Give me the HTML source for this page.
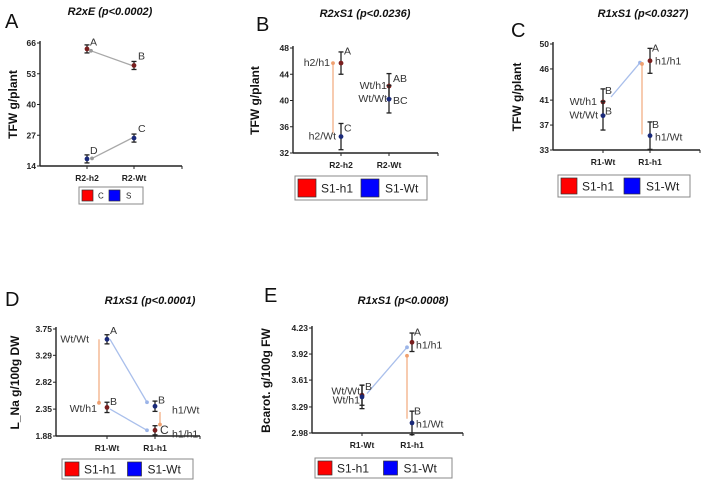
<!DOCTYPE html>
<html><head><meta charset="utf-8"><style>
html,body{margin:0;padding:0;background:#fff;}
svg{display:block;font-family:"Liberation Sans",sans-serif;}
</style></head><body>
<svg id="fig" width="705" height="494" viewBox="0 0 705 494" xmlns="http://www.w3.org/2000/svg"></svg>
<script>
// ---- Panel data ----
const catsA = ["R2-h2","R2-Wt"];
const ticksA = [14,27,40,53,66];
const seriesA1 = [63.5,56.5];   // C
const errA1 = [1.7,1.7];
const seriesA2 = [17,25.8];     // S
const errA2 = [1.7,1.7];
const lettersA1 = ["A","B"];
const lettersA2 = ["D","C"];

const catsB = ["R2-h2","R2-Wt"];
const ticksB = [32,36,40,44,48];
const seriesB1 = [45.7,42.2];   // S1-h1
const errB1 = [1.7,1.9];
const seriesB2 = [34.5,40.2];   // S1-Wt
const errB2 = [2.0,2.1];

const catsC = ["R1-Wt","R1-h1"];
const ticksC = [33,37,41,46,50];
const seriesC1 = [40.7,47.3];
const errC1 = [2.1,2.0];
const seriesC2 = [38.5,35.3];
const errC2 = [2.3,2.2];

const catsD = ["R1-Wt","R1-h1"];
const ticksD = [1.88,2.35,2.82,3.29,3.75];
const seriesD1 = [2.38,1.98];
const errD1 = [0.09,0.08];
const seriesD2 = [3.57,2.40];
const errD2 = [0.08,0.09];

const catsE = ["R1-Wt","R1-h1"];
const ticksE = [2.98,3.29,3.61,3.92,4.23];
const seriesE1 = [3.43,4.06];
const errE1 = [0.12,0.11];
const seriesE2 = [3.41,3.10];
const errE2 = [0.14,0.14];

const NS="http://www.w3.org/2000/svg";
const svg=document.getElementById('fig');
function mk(tag,attrs,parent,text){const e=document.createElementNS(NS,tag);for(const k in attrs)e.setAttribute(k,attrs[k]);if(text!==undefined)e.textContent=text;(parent||svg).appendChild(e);return e;}

function panel(p){
  const g=mk('g',{});
  
  
  const ymin=p.ticks[0],ymax=p.ticks[p.ticks.length-1];
  const y=v=>p.y0-(p.y0-p.y1)*(v-ymin)/(ymax-ymin);
  const x=i=>p.cx[i];
  const L=mk('text',{x:p.lx,y:p.ly,'font-size':20,fill:'#111'},g,p.id);
  
  const T=mk('text',{x:p.tx,y:p.ty,'font-size':11,'font-weight':'bold','font-style':'italic','text-anchor':'middle',fill:'#111'},g,p.title);
  
  const yt=mk('text',{x:0,y:0,'font-size':12,'font-weight':'bold','text-anchor':'middle',fill:'#111',transform:`translate(${p.ytx},${(p.y0+p.y1)/2}) rotate(-90)`},g,p.ytitle);
  
  mk('line',{x1:p.ax,y1:p.y1-2,x2:p.ax,y2:p.y0,stroke:'#222','stroke-width':1.4},g);
  mk('line',{x1:p.ax,y1:p.y0,x2:p.axEnd,y2:p.y0,stroke:'#222','stroke-width':1.4},g);
  mk('line',{x1:p.axEnd,y1:p.y0,x2:p.axEnd,y2:p.y0+3,stroke:'#222','stroke-width':1},g);
  p.ticks.forEach(t=>{
    mk('line',{x1:p.ax-3,y1:y(t),x2:p.ax,y2:y(t),stroke:'#222','stroke-width':1},g);
    const tl=mk('text',{x:p.ax-4,y:y(t)+3,'font-size':8.5,'font-weight':'bold','text-anchor':'end',fill:'#222'},g,String(t));
    
  });
  p.cats.forEach((c,i)=>{
    mk('line',{x1:x(i),y1:p.y0,x2:x(i),y2:p.y0+3,stroke:'#222','stroke-width':1},g);
    const cl=mk('text',{x:x(i),y:p.y0+15,'font-size':8.5,'font-weight':'bold','text-anchor':'middle',fill:'#222'},g,c);
    
  });
  (p.links||[]).forEach(l=>{
    const col=l.c;
    mk('line',{x1:x(l.i1)+l.dx1,y1:y(l.v1),x2:x(l.i2)+l.dx2,y2:y(l.v2),stroke:col,'stroke-width':1.3,opacity:0.85},g);
    mk('circle',{cx:x(l.i2)+l.dx2,cy:y(l.v2),r:1.9,fill:col},g);
  });
  [[p.s1[0],p.s1[1],'#7a1f1f'],[p.s2[0],p.s2[1],'#1a2a7a']].forEach((s,si)=>{
    s[0].forEach((v,i)=>{
      const e=s[1][i];
      mk('line',{x1:x(i),y1:y(v-e),x2:x(i),y2:y(v+e),stroke:'#222','stroke-width':1.3},g);
      mk('line',{x1:x(i)-2.5,y1:y(v-e),x2:x(i)+2.5,y2:y(v-e),stroke:'#222','stroke-width':1.3},g);
      mk('line',{x1:x(i)-2.5,y1:y(v+e),x2:x(i)+2.5,y2:y(v+e),stroke:'#222','stroke-width':1.3},g);
      const pt=mk('circle',{cx:x(i),cy:y(v),r:2.4,fill:s[2]},g);
      
      
    });
  });
  (p.notes||[]).forEach(n=>{
    const yy=y(n.v);
    const a=mk('text',{x:x(n.i)+n.dx,y:yy+(n.dy||0),'font-size':n.fs||10.5,'text-anchor':n.anchor||'start',fill:'#333'},g,n.t);
    
  });
  const lg=mk('g',{},g);
  
  const lw=p.lg[2]-p.lg[0],lh=p.lg[3]-p.lg[1];
  mk('rect',{x:p.lg[0],y:p.lg[1],width:lw,height:lh,fill:'#fff',stroke:'#888','stroke-width':1},lg);
  const fs=p.lfs||12;
  const sw=lh-6;
  mk('rect',{x:p.lg[0]+3,y:p.lg[1]+3,width:sw,height:sw,fill:'#f00',stroke:'#333','stroke-width':0.7},lg);
  mk('text',{x:p.lg[0]+sw+8,y:p.lg[1]+lh/2+fs*0.36,'font-size':fs,fill:'#222'},lg,p.ln[0]);
  const x2=p.lg[0]+lw*0.5+(p.lshift||0);
  mk('rect',{x:x2,y:p.lg[1]+3,width:sw,height:sw,fill:'#00f',stroke:'#333','stroke-width':0.7},lg);
  mk('text',{x:x2+sw+6,y:p.lg[1]+lh/2+fs*0.36,'font-size':fs,fill:'#222'},lg,p.ln[1]);
}

const ORG='#f0a070', BLU='#9bb4e8', GRY='#999';
panel({id:'A',title:'R2xE (p<0.0002)',tx:110,ty:15,lx:5,ly:28,ytitle:'TFW g/plant',ytx:17,
  ax:40,axEnd:182,y0:166,y1:43,cx:[87,134],cats:catsA,ticks:ticksA,
  s1:[seriesA1,errA1],s2:[seriesA2,errA2],
  links:[{i1:1,v1:seriesA1[1],dx1:-2,i2:0,v2:seriesA1[0]-0.8,dx2:4,c:GRY},{i1:1,v1:seriesA2[1],dx1:-2,i2:0,v2:seriesA2[0]+0.2,dx2:5,c:GRY}],
  notes:[{i:0,dx:3,v:seriesA1[0]+1.5,t:lettersA1[0]},{i:1,dx:4,v:seriesA1[1]+2.5,t:lettersA1[1]},{i:0,dx:3,v:seriesA2[0]+2,t:lettersA2[0]},{i:1,dx:4,v:seriesA2[1]+2.5,t:lettersA2[1]}],
  lg:[79,187,143,204],ln:['C','S'],lfs:8,lshift:-2});
panel({id:'B',title:'R2xS1 (p<0.0236)',tx:365,ty:17,lx:256,ly:31,ytitle:'TFW g/plant',ytx:259,
  ax:293,axEnd:438,y0:153,y1:48,cx:[341,389],cats:catsB,ticks:ticksB,
  s1:[seriesB1,errB1],s2:[seriesB2,errB2],
  links:[{i1:0,v1:seriesB2[0]+0.5,dx1:-8,i2:0,v2:seriesB1[0],dx2:-8,c:ORG}],
  notes:[{i:0,dx:3,v:47,t:'A'},{i:0,dx:3,v:35.3,t:'C'},{i:0,dx:-11,v:45.7,dy:3,t:'h2/h1',anchor:'end'},{i:0,dx:-5,v:34.5,dy:3,t:'h2/Wt',anchor:'end'},
    {i:1,dx:4,v:42.8,t:'AB'},{i:1,dx:4,v:39.5,t:'BC'},{i:1,dx:-2,v:42.2,dy:3,t:'Wt/h1',anchor:'end'},{i:1,dx:-2,v:40.2,dy:3,t:'Wt/Wt',anchor:'end'}],
  lg:[295,176,427,200],ln:['S1-h1','S1-Wt'],lfs:12});
panel({id:'C',title:'R1xS1 (p<0.0327)',tx:643,ty:17,lx:511,ly:37,ytitle:'TFW g/plant',ytx:521,
  ax:553,axEnd:700,y0:150,y1:44,cx:[603,650],cats:catsC,ticks:ticksC,
  s1:[seriesC1,errC1],s2:[seriesC2,errC2],
  links:[{i1:0,v1:41.5,dx1:8,i2:1,v2:47,dx2:-10,c:BLU},{i1:1,v1:35.5,dx1:-8,i2:1,v2:46.8,dx2:-8,c:ORG}],
  notes:[{i:0,dx:2,v:42,t:'B'},{i:0,dx:2,v:38.7,t:'B'},{i:0,dx:-6,v:40.7,dy:3,t:'Wt/h1',anchor:'end'},{i:0,dx:-5,v:38.5,dy:3,t:'Wt/Wt',anchor:'end'},
    {i:1,dx:2,v:48.8,t:'A'},{i:1,dx:5,v:47.2,dy:3,t:'h1/h1'},{i:1,dx:2,v:36.5,t:'B'},{i:1,dx:5,v:35,dy:3,t:'h1/Wt'}],
  lg:[558,175,690,197],ln:['S1-h1','S1-Wt'],lfs:12});
panel({id:'D',title:'R1xS1 (p<0.0001)',tx:150,ty:304,lx:5,ly:306,ytitle:'L_Na  g/100g DW',ytx:19,
  ax:56,axEnd:200,y0:436,y1:329,cx:[107,155],cats:catsD,ticks:ticksD,
  s1:[seriesD1,errD1],s2:[seriesD2,errD2],
  links:[{i1:0,v1:seriesD2[0],dx1:-8,i2:0,v2:2.46,dx2:-8,c:ORG},{i1:0,v1:seriesD2[0],dx1:3,i2:1,v2:2.47,dx2:-8,c:BLU},{i1:0,v1:2.35,dx1:3,i2:1,v2:1.98,dx2:-8,c:BLU},{i1:1,v1:2.3,dx1:5,i2:1,v2:2.08,dx2:5,c:ORG}],
  notes:[{i:0,dx:3,v:3.66,t:'A'},{i:0,dx:3,v:2.42,t:'B'},{i:0,dx:-18,v:3.57,dy:3,t:'Wt/Wt',anchor:'end'},{i:0,dx:-10,v:2.35,dy:3,t:'Wt/h1',anchor:'end'},
    {i:1,dx:3,v:2.45,t:'B'},{i:1,dx:17,v:2.33,dy:3,t:'h1/Wt'},{i:1,dx:5,v:1.97,dy:3,t:'C',fs:12},{i:1,dx:17,v:1.91,dy:3,t:'h1/h1'}],
  lg:[62,459,193,479],ln:['S1-h1','S1-Wt'],lfs:12});
panel({id:'E',title:'R1xS1 (p<0.0008)',tx:403,ty:304,lx:264,ly:302,ytitle:'Bcarot. g/100g FW',ytx:270,
  ax:312,axEnd:463,y0:433,y1:328,cx:[362,412],cats:catsE,ticks:ticksE,
  s1:[seriesE1,errE1],s2:[seriesE2,errE2],
  links:[{i1:0,v1:3.45,dx1:5,i2:1,v2:4.0,dx2:-5,c:BLU},{i1:1,v1:3.15,dx1:-5,i2:1,v2:3.9,dx2:-5,c:ORG}],
  notes:[{i:0,dx:3,v:3.49,t:'B'},{i:0,dx:-2,v:3.44,t:'Wt/Wt',anchor:'end'},{i:0,dx:-2,v:3.33,t:'Wt/h1',anchor:'end'},
    {i:1,dx:2,v:4.14,t:'A'},{i:1,dx:4,v:4.02,dy:3,t:'h1/h1'},{i:1,dx:2,v:3.2,t:'B'},{i:1,dx:4,v:3.08,dy:3,t:'h1/Wt'}],
  lg:[315,458,452,478],ln:['S1-h1','S1-Wt'],lfs:12});
</script>
</body></html>
